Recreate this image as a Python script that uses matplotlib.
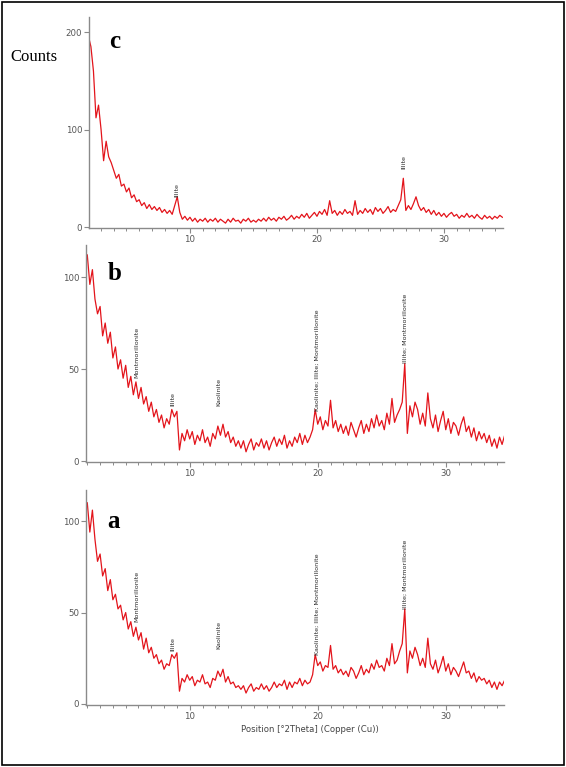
import numpy as np
import matplotlib
matplotlib.use("Agg")
from matplotlib import pyplot as plt
from matplotlib.patches import Rectangle
from matplotlib.ticker import MultipleLocator

# 2theta positions, 0.2 deg steps from 2.0 to 34.6
two_theta = np.round(np.arange(2.0, 34.61, 0.2), 1)

# sample c counts (one row per degree)
counts_c = [196, 185, 160, 112, 125,
            100, 68, 88, 72, 66,
            58, 50, 54, 42, 44,
            36, 40, 30, 33, 26,
            28, 22, 25, 19, 23,
            18, 21, 17, 20, 15,
            18, 14, 17, 13, 22,
            31, 15, 8, 11, 7,
            10, 6, 9, 5, 8,
            6, 9, 5, 8, 6,
            9, 5, 8, 6, 4,
            8, 5, 9, 6, 7,
            4, 8, 6, 9, 5,
            7, 5, 8, 6, 9,
            6, 10, 7, 9, 6,
            10, 8, 11, 7, 9,
            12, 8, 11, 9, 13,
            10, 14, 9, 12, 15,
            11, 16, 13, 18, 12,
            27, 14, 17, 12, 16,
            13, 18, 14, 16, 12,
            27, 13, 17, 14, 19,
            15, 18, 13, 20, 16,
            19, 14, 17, 21, 15,
            18, 16, 22, 28, 50,
            17, 22, 18, 24, 31,
            22, 17, 20, 15, 18,
            13, 17, 12, 15, 11,
            14, 10, 13, 15, 11,
            13, 9, 12, 10, 14,
            10, 12, 9, 13, 10,
            8, 12, 9, 11, 8,
            11, 9, 12, 10]

# sample b counts
counts_b = [112, 96, 104, 88, 80,
            84, 68, 75, 64, 70,
            56, 62, 50, 55, 45,
            52, 40, 46, 36, 43,
            34, 40, 31, 35, 27,
            32, 24, 28, 21, 25,
            18, 23, 20, 28, 24,
            27, 6, 15, 11, 17,
            12, 16, 9, 14, 11,
            17, 10, 13, 8, 15,
            12, 19, 14, 20, 13,
            16, 10, 13, 8, 11,
            7, 11, 5, 9, 12,
            6, 10, 8, 12, 7,
            11, 6, 10, 13, 8,
            12, 9, 14, 7, 11,
            8, 13, 10, 15, 9,
            14, 10, 13, 17, 28,
            20, 24, 17, 22, 19,
            33, 18, 22, 16, 20,
            15, 19, 14, 21, 17,
            13, 18, 22, 15, 20,
            16, 23, 18, 25, 19,
            22, 17, 26, 20, 34,
            21, 25, 28, 32, 53,
            15, 30, 24, 32, 28,
            20, 26, 19, 37, 23,
            18, 25, 16, 22, 27,
            17, 23, 15, 21, 19,
            14, 20, 24, 16, 19,
            13, 18, 11, 16, 12,
            15, 10, 14, 8, 12,
            7, 13, 9, 14]

# sample a counts
counts_a = [110, 94, 106, 90, 78,
            82, 70, 74, 62, 68,
            57, 60, 52, 54, 46,
            50, 41, 45, 37, 42,
            35, 39, 30, 36, 28,
            31, 25, 27, 22, 24,
            19, 22, 21, 27, 25,
            28, 7, 14, 12, 16,
            13, 15, 10, 13, 12,
            16, 11, 12, 9, 14,
            13, 18, 15, 19, 12,
            15, 11, 12, 9, 10,
            8, 10, 6, 9, 11,
            7, 9, 8, 11, 8,
            10, 7, 9, 12, 9,
            11, 10, 13, 8, 12,
            9, 12, 11, 14, 10,
            13, 11, 12, 16, 27,
            21, 23, 18, 21, 20,
            32, 19, 21, 17, 19,
            16, 18, 15, 20, 18,
            14, 17, 21, 16, 19,
            17, 22, 19, 24, 20,
            21, 18, 25, 21, 33,
            22, 24, 29, 33, 52,
            17, 29, 25, 31, 27,
            21, 25, 20, 36, 22,
            19, 24, 17, 21, 26,
            18, 22, 16, 20, 18,
            15, 19, 23, 17, 18,
            14, 17, 12, 15, 13,
            14, 11, 13, 9, 12,
            8, 12, 10, 13]

# peak labels: (name, position, bottom of text in counts)
peaks_c = [("Illite", 8.95, 31), ("Illite", 26.85, 59)]
peaks_b = [("Montmorillonite", 5.9, 45), ("Illite", 8.7, 30), ("Kaolinite", 12.3, 30),
           ("Kaolinite; Illite; Montmorillonite", 19.95, 27),
           ("Illite; Montmorillonite", 26.8, 53)]
peaks_a = [("Montmorillonite", 5.9, 44.6), ("Illite", 8.7, 29), ("Kaolinite", 12.3, 30),
           ("Kaolinite; Illite; Montmorillonite", 19.95, 27),
           ("Illite; Montmorillonite", 26.8, 52)]

W, H = 566, 767
fig = plt.figure(figsize=(W / 100, H / 100), dpi=100)


def px_axes(left, top, right, bottom):
    return fig.add_axes([left / W, 1 - bottom / H, (right - left) / W, (bottom - top) / H])


def style(ax, yticks):
    for s in ["top", "right"]:
        ax.spines[s].set_visible(False)
    for s in ["left", "bottom"]:
        ax.spines[s].set_color("#8a8a8a")
        ax.spines[s].set_linewidth(1.0)
    ax.set_xticks([10, 20, 30])
    ax.xaxis.set_minor_locator(MultipleLocator(1))
    ax.set_yticks(yticks)
    ax.tick_params(axis="both", which="major", colors="#8a8a8a", labelcolor="#555555",
                   labelsize=6.2, length=3.5, width=0.8, pad=1.5)
    ax.tick_params(axis="x", which="minor", colors="#8a8a8a", length=2, width=0.7)
    ax.set_facecolor("none")


def draw(ax, y, peaks):
    ax.plot(two_theta, y, color="#e3141b", lw=0.9)
    for name, pos, base in peaks:
        ax.text(pos, base, name, rotation=90, ha="center", va="bottom",
                fontsize=4.6, color="#2a2a2a")


ax_c = px_axes(89, 17, 503, 228)
draw(ax_c, counts_c, peaks_c)
ax_c.set_xlim(2.05, 34.65)
ax_c.set_ylim(-1, 215.4)
style(ax_c, [0, 100, 200])

ax_b = px_axes(86, 245, 504, 462)
draw(ax_b, counts_b, peaks_b)
ax_b.set_xlim(1.9, 34.55)
ax_b.set_ylim(-0.54, 117.4)
style(ax_b, [0, 50, 100])

ax_a = px_axes(86, 490, 504, 705)
draw(ax_a, counts_a, peaks_a)
ax_a.set_xlim(1.9, 34.55)
ax_a.set_ylim(-0.55, 117)
style(ax_a, [0, 50, 100])

serif = ["Liberation Serif", "DejaVu Serif"]
fig.text(115 / W, 1 - 42 / H, "c", fontsize=18, fontweight="bold", family=serif,
         ha="center", va="center")
fig.text(115 / W, 1 - 274 / H, "b", fontsize=18, fontweight="bold", family=serif,
         ha="center", va="center")
fig.text(114 / W, 1 - 521 / H, "a", fontsize=18, fontweight="bold", family=serif,
         ha="center", va="center")
fig.text(10 / W, 1 - 57 / H, "Counts", fontsize=12, family=serif, ha="left", va="center")
fig.text(310 / W, 1 - 729 / H, "Position [°2Theta] (Copper (Cu))", fontsize=6.1,
         color="#444444", ha="center", va="center")

fig.patches.append(Rectangle((2 / W, 2 / H), (W - 4) / W, (H - 4) / H,
                             transform=fig.transFigure, fill=False,
                             edgecolor="black", lw=1.2))

fig.savefig("out.png", dpi=100)
